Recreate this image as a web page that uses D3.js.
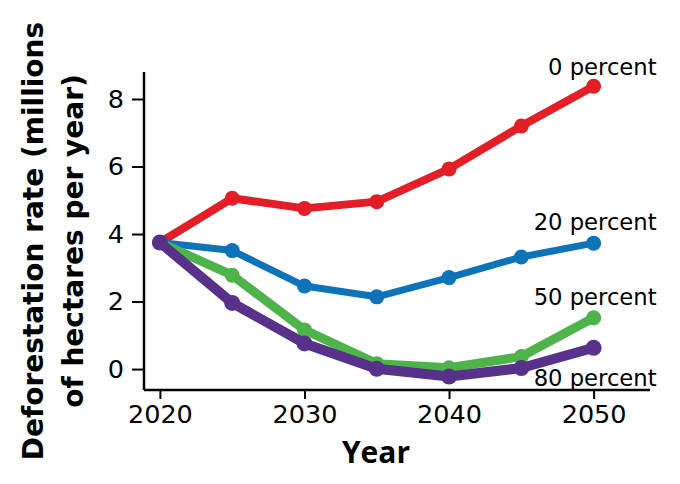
<!DOCTYPE html>
<html>
<head>
<meta charset="utf-8">
<script src="https://cdn.jsdelivr.net/npm/d3@7.9.0/dist/d3.min.js"></script>
<style>
  body { margin: 0; background: #fff; }
  svg { display: block; }
</style>
</head>
<body>
<svg id="chart" width="680" height="484"></svg>
<script>
// Data
const years = [2020, 2025, 2030, 2035, 2040, 2045, 2050];
const zeroPercent = [3.75, 5.06, 4.76, 4.96, 5.93, 7.2, 8.38];
const twentyPercent = [3.75, 3.51, 2.46, 2.14, 2.71, 3.32, 3.73];
const fiftyPercent = [3.75, 2.78, 1.16, 0.16, 0.04, 0.37, 1.52];
const eightyPercent = [3.75, 1.96, 0.76, 0.01, -0.22, 0.03, 0.63];
const seriesNames = ["0 percent", "20 percent", "50 percent", "80 percent"];
const xTicks = [2020, 2030, 2040, 2050];
const yTicks = [0, 2, 4, 6, 8];

const series = [
  { name: seriesNames[0], values: zeroPercent,   color: "#e31e26", width: 8,  r: 7.5, dy: -11 },
  { name: seriesNames[1], values: twentyPercent, color: "#0f73ba", width: 7,  r: 7.5, dy: -13 },
  { name: seriesNames[2], values: fiftyPercent,  color: "#4db34a", width: 9,  r: 7.5, dy: -13 },
  { name: seriesNames[3], values: eightyPercent, color: "#57318a", width: 10, r: 8,   dy: 38 }
];

const svg = d3.select("#chart");

const x = d3.scaleLinear().domain([2018.9, 2053.9]).range([144, 650]);
const y = d3.scaleLinear().domain([-0.62, 8.8]).range([390, 72]);

// Axes
const xAxis = svg.append("g")
  .attr("transform", "translate(0,390)")
  .call(d3.axisBottom(x).tickValues(xTicks).tickFormat(d3.format("d")).tickSize(9).tickPadding(6));

const yAxis = svg.append("g")
  .attr("transform", "translate(144,0)")
  .call(d3.axisLeft(y).tickValues(yTicks).tickSize(12).tickPadding(8));

[xAxis, yAxis].forEach(a => {
  a.select(".domain").attr("stroke", "#000").attr("stroke-width", 2.5);
  a.selectAll(".tick line").attr("stroke", "#000").attr("stroke-width", 2);
  a.selectAll(".tick text")
    .attr("fill", "#000")
    .style("font-family", "'DejaVu Sans', sans-serif")
    .style("font-size", "25.5px");
});
// plain L-shaped axes (no end caps)
xAxis.select(".domain").attr("d", `M${x.range()[0]},0H${x.range()[1]}`);
yAxis.select(".domain").attr("d", `M0,${y.range()[1]}V${y.range()[0]}`);

// Lines and points
const line = d3.line()
  .x((d, i) => x(years[i]))
  .y(d => y(d));

series.forEach(s => {
  const g = svg.append("g");
  g.append("path")
    .datum(s.values)
    .attr("d", line)
    .attr("fill", "none")
    .attr("stroke", s.color)
    .attr("stroke-width", s.width)
    .attr("stroke-linejoin", "round")
    .attr("stroke-linecap", "round");

  g.selectAll("circle")
    .data(s.values)
    .enter()
    .append("circle")
    .attr("cx", (d, i) => x(years[i]))
    .attr("cy", d => y(d))
    .attr("r", s.r)
    .attr("fill", s.color);
});

// Series labels at the right end
svg.selectAll(".series-label")
  .data(series)
  .enter()
  .append("text")
  .attr("class", "series-label")
  .attr("x", x(2050) + 63)
  .attr("y", d => y(d.values[d.values.length - 1]) + d.dy)
  .attr("text-anchor", "end")
  .style("font-family", "'DejaVu Sans', sans-serif")
  .style("font-size", "22.7px")
  .attr("fill", "#000")
  .text(d => d.name);

// Axis titles
svg.append("text")
  .attr("x", 376)
  .attr("y", 463)
  .attr("text-anchor", "middle")
  .style("font-family", "'Open Sans', sans-serif")
  .style("font-weight", "bold")
  .style("font-size", "30px")
  .text("Year");

const yTitle = svg.append("text")
  .attr("transform", "translate(43,241) rotate(-90)")
  .attr("text-anchor", "middle")
  .style("font-family", "'DejaVu Sans', sans-serif")
  .style("font-weight", "bold")
  .style("font-size", "28px");

yTitle.append("tspan").attr("x", 0).attr("dy", 0).text("Deforestation rate (millions");
yTitle.append("tspan").attr("x", 0).attr("dy", 40).text("of hectares per year)");
</script>
</body>
</html>
